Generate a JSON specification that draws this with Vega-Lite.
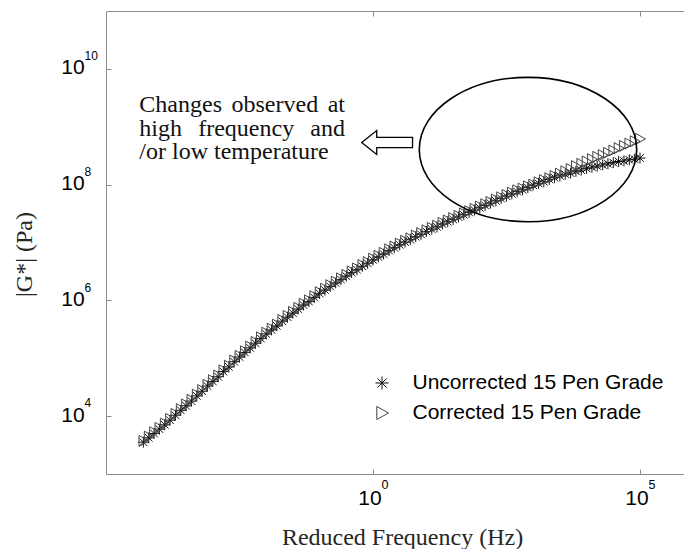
{
"$schema":"https://vega.github.io/schema/vega-lite/v6.json",
"width":578,"height":463,
"autosize":{"type":"none"},
"padding":{"left":106,"top":11,"right":0,"bottom":75},
"background":"#ffffff",
"config":{"view":{"stroke":null},"axis":{"grid":false,"domainColor":"#8c8c8c","tickColor":"#8c8c8c","domainWidth":1,"tickWidth":1,"labelFont":"Liberation Sans","labelColor":"#000000","titleFont":"Liberation Serif","titleFontWeight":"normal","titleColor":"#262626"}},
"datasets":{
"pts":[
{"s":"U","f":5.01e-5,"g":3.55e3},{"s":"U","f":6.31e-5,"g":4.22e3},{"s":"U","f":7.94e-5,"g":5.01e3},{"s":"U","f":1.00e-4,"g":5.96e3},{"s":"U","f":1.26e-4,"g":7.08e3},{"s":"U","f":1.58e-4,"g":8.51e3},{"s":"U","f":2.00e-4,"g":1.035e4},{"s":"U","f":2.51e-4,"g":1.26e4},{"s":"U","f":3.16e-4,"g":1.51e4},{"s":"U","f":3.98e-4,"g":1.82e4},{"s":"U","f":5.01e-4,"g":2.24e4},{"s":"U","f":6.31e-4,"g":2.69e4},{"s":"U","f":7.94e-4,"g":3.31e4},{"s":"U","f":1.00e-3,"g":3.98e4},{"s":"U","f":1.26e-3,"g":4.79e4},{"s":"U","f":1.58e-3,"g":5.89e4},{"s":"U","f":2.00e-3,"g":7.08e4},{"s":"U","f":2.51e-3,"g":8.71e4},{"s":"U","f":3.16e-3,"g":1.05e5},{"s":"U","f":3.98e-3,"g":1.26e5},{"s":"U","f":5.01e-3,"g":1.51e5},{"s":"U","f":6.31e-3,"g":1.82e5},{"s":"U","f":7.94e-3,"g":2.19e5},{"s":"U","f":1.00e-2,"g":2.63e5},{"s":"U","f":1.26e-2,"g":3.09e5},{"s":"U","f":1.58e-2,"g":3.63e5},{"s":"U","f":2.00e-2,"g":4.37e5},{"s":"U","f":2.51e-2,"g":5.13e5},{"s":"U","f":3.16e-2,"g":6.03e5},{"s":"U","f":3.98e-2,"g":7.08e5},{"s":"U","f":5.01e-2,"g":8.32e5},{"s":"U","f":6.31e-2,"g":9.55e5},{"s":"U","f":7.94e-2,"g":1.12e6},{"s":"U","f":0.1,"g":1.32e6},{"s":"U","f":0.126,"g":1.51e6},{"s":"U","f":0.158,"g":1.74e6},{"s":"U","f":0.2,"g":2.00e6},{"s":"U","f":0.251,"g":2.29e6},{"s":"U","f":0.316,"g":2.63e6},{"s":"U","f":0.398,"g":3.02e6},{"s":"U","f":0.501,"g":3.39e6},{"s":"U","f":0.631,"g":3.89e6},{"s":"U","f":0.794,"g":4.37e6},{"s":"U","f":1,"g":5.01e6},{"s":"U","f":1.26,"g":5.62e6},{"s":"U","f":1.58,"g":6.31e6},{"s":"U","f":2.0,"g":7.24e6},{"s":"U","f":2.51,"g":8.13e6},{"s":"U","f":3.16,"g":9.12e6},{"s":"U","f":3.98,"g":1.02e7},{"s":"U","f":5.01,"g":1.12e7},{"s":"U","f":6.31,"g":1.26e7},{"s":"U","f":7.94,"g":1.38e7},{"s":"U","f":10,"g":1.55e7},{"s":"U","f":12.6,"g":1.70e7},{"s":"U","f":15.8,"g":1.86e7},{"s":"U","f":20,"g":2.09e7},{"s":"U","f":25.1,"g":2.29e7},{"s":"U","f":31.6,"g":2.51e7},{"s":"U","f":39.8,"g":2.75e7},{"s":"U","f":50.1,"g":3.02e7},{"s":"U","f":63.1,"g":3.31e7},{"s":"U","f":79.4,"g":3.63e7},{"s":"U","f":100,"g":3.98e7},{"s":"U","f":126,"g":4.37e7},{"s":"U","f":158,"g":4.79e7},{"s":"U","f":200,"g":5.25e7},{"s":"U","f":251,"g":5.75e7},{"s":"U","f":316,"g":6.31e7},{"s":"U","f":398,"g":6.92e7},{"s":"U","f":501,"g":7.59e7},{"s":"U","f":631,"g":8.13e7},{"s":"U","f":794,"g":8.91e7},{"s":"U","f":1000,"g":9.77e7},{"s":"U","f":1260,"g":1.05e8},{"s":"U","f":1580,"g":1.12e8},{"s":"U","f":2000,"g":1.23e8},{"s":"U","f":2510,"g":1.32e8},{"s":"U","f":3160,"g":1.41e8},{"s":"U","f":3980,"g":1.51e8},{"s":"U","f":5010,"g":1.58e8},{"s":"U","f":6310,"g":1.70e8},{"s":"U","f":7940,"g":1.78e8},{"s":"U","f":10000,"g":1.91e8},{"s":"U","f":12600,"g":2.00e8},{"s":"U","f":15800,"g":2.09e8},{"s":"U","f":20000,"g":2.19e8},{"s":"U","f":25100,"g":2.29e8},{"s":"U","f":31600,"g":2.40e8},{"s":"U","f":39800,"g":2.51e8},{"s":"U","f":50100,"g":2.57e8},{"s":"U","f":63100,"g":2.69e8},{"s":"U","f":79400,"g":2.75e8},{"s":"U","f":100000,"g":2.88e8},
{"s":"C","f":5.01e-5,"g":3.72e3},{"s":"C","f":6.31e-5,"g":4.43e3},{"s":"C","f":7.94e-5,"g":5.26e3},{"s":"C","f":1.00e-4,"g":6.26e3},{"s":"C","f":1.26e-4,"g":7.43e3},{"s":"C","f":1.58e-4,"g":8.94e3},{"s":"C","f":2.00e-4,"g":1.09e4},{"s":"C","f":2.51e-4,"g":1.32e4},{"s":"C","f":3.16e-4,"g":1.59e4},{"s":"C","f":3.98e-4,"g":1.91e4},{"s":"C","f":5.01e-4,"g":2.35e4},{"s":"C","f":6.31e-4,"g":2.82e4},{"s":"C","f":7.94e-4,"g":3.48e4},{"s":"C","f":1.00e-3,"g":4.18e4},{"s":"C","f":1.26e-3,"g":5.03e4},{"s":"C","f":1.58e-3,"g":6.18e4},{"s":"C","f":2.00e-3,"g":7.43e4},{"s":"C","f":2.51e-3,"g":9.15e4},{"s":"C","f":3.16e-3,"g":1.10e5},{"s":"C","f":3.98e-3,"g":1.32e5},{"s":"C","f":5.01e-3,"g":1.59e5},{"s":"C","f":6.31e-3,"g":1.91e5},{"s":"C","f":7.94e-3,"g":2.30e5},{"s":"C","f":1.00e-2,"g":2.76e5},{"s":"C","f":1.26e-2,"g":3.24e5},{"s":"C","f":1.58e-2,"g":3.81e5},{"s":"C","f":2.00e-2,"g":4.59e5},{"s":"C","f":2.51e-2,"g":5.39e5},{"s":"C","f":3.16e-2,"g":6.33e5},{"s":"C","f":3.98e-2,"g":7.43e5},{"s":"C","f":5.01e-2,"g":8.74e5},{"s":"C","f":6.31e-2,"g":1.00e6},{"s":"C","f":7.94e-2,"g":1.18e6},{"s":"C","f":0.1,"g":1.39e6},{"s":"C","f":0.126,"g":1.59e6},{"s":"C","f":0.158,"g":1.83e6},{"s":"C","f":0.2,"g":2.10e6},{"s":"C","f":0.251,"g":2.40e6},{"s":"C","f":0.316,"g":2.76e6},{"s":"C","f":0.398,"g":3.17e6},{"s":"C","f":0.501,"g":3.56e6},{"s":"C","f":0.631,"g":4.08e6},{"s":"C","f":0.794,"g":4.59e6},{"s":"C","f":1,"g":5.26e6},{"s":"C","f":1.26,"g":5.90e6},{"s":"C","f":1.58,"g":6.63e6},{"s":"C","f":2.0,"g":7.60e6},{"s":"C","f":2.51,"g":8.54e6},{"s":"C","f":3.16,"g":9.58e6},{"s":"C","f":3.98,"g":1.07e7},{"s":"C","f":5.01,"g":1.18e7},{"s":"C","f":6.31,"g":1.32e7},{"s":"C","f":7.94,"g":1.45e7},{"s":"C","f":10,"g":1.63e7},{"s":"C","f":12.6,"g":1.79e7},{"s":"C","f":15.8,"g":1.95e7},{"s":"C","f":20,"g":2.19e7},{"s":"C","f":25.1,"g":2.40e7},{"s":"C","f":31.6,"g":2.64e7},{"s":"C","f":39.8,"g":2.89e7},{"s":"C","f":50.1,"g":3.17e7},{"s":"C","f":63.1,"g":3.48e7},{"s":"C","f":79.4,"g":3.81e7},{"s":"C","f":100,"g":4.18e7},{"s":"C","f":126,"g":4.59e7},{"s":"C","f":158,"g":5.03e7},{"s":"C","f":200,"g":5.51e7},{"s":"C","f":251,"g":6.04e7},{"s":"C","f":316,"g":6.63e7},{"s":"C","f":398,"g":7.27e7},{"s":"C","f":501,"g":7.97e7},{"s":"C","f":631,"g":8.54e7},{"s":"C","f":794,"g":9.36e7},{"s":"C","f":1000,"g":1.00e8},{"s":"C","f":1260,"g":1.10e8},{"s":"C","f":1580,"g":1.20e8},{"s":"C","f":2000,"g":1.29e8},{"s":"C","f":2510,"g":1.41e8},{"s":"C","f":3160,"g":1.55e8},{"s":"C","f":3980,"g":1.70e8},{"s":"C","f":5010,"g":1.86e8},{"s":"C","f":6310,"g":2.09e8},{"s":"C","f":7940,"g":2.29e8},{"s":"C","f":10000,"g":2.51e8},{"s":"C","f":12600,"g":2.75e8},{"s":"C","f":15800,"g":3.02e8},{"s":"C","f":20000,"g":3.24e8},{"s":"C","f":25100,"g":3.55e8},{"s":"C","f":31600,"g":3.89e8},{"s":"C","f":39800,"g":4.27e8},{"s":"C","f":50100,"g":4.68e8},{"s":"C","f":63100,"g":5.13e8},{"s":"C","f":79400,"g":5.62e8},{"s":"C","f":100000,"g":6.17e8}
],
"wordsL":[{"f":4.21e-5,"g":1.83e9,"t":"Changes"},{"f":2.24e-3,"g":1.83e9,"t":"observed"},{"f":4.21e-5,"g":7.06e8,"t":"high"},{"f":5.33e-4,"g":7.06e8,"t":"frequency"},{"f":4.21e-5,"g":2.72e8,"t":"/or low temperature"}],
"wordsR":[{"f":0.299,"g":1.83e9,"t":"at"},{"f":0.299,"g":7.06e8,"t":"and"}],
"ell":[{"f":799,"g":4.04e8}],
"arr":[{"f":1.84,"g":5.34e8}]
},
"layer":[
{"data":{"name":"pts"},
 "mark":{"type":"point","filled":false,"size":120,"strokeWidth":1,"opacity":1},
 "encoding":{
  "x":{"field":"f","type":"quantitative","scale":{"type":"log","domain":[1e-5,6.67e5],"nice":false},
       "axis":{"orient":"bottom","values":[1,100000],"labelExpr":"'10'","tickSize":-5,"labelPadding":35,"labelBaseline":"alphabetic","labelAlign":"center","labelOffset":-3.5,"labelFontSize":21,"labelFlush":false,"labelOverlap":false,
               "title":"Reduced Frequency (Hz)","titleFontSize":24,"titleX":296,"titleY":70,"titleBaseline":"alphabetic","titleAlign":"center"}},
  "y":{"field":"g","type":"quantitative","scale":{"type":"log","domain":[1e3,1e11],"nice":false},
       "axis":{"orient":"left","values":[1e4,1e6,1e8,1e10],"labelExpr":"'10'","tickSize":-5,"labelPadding":50.3,"labelAlign":"left","labelBaseline":"alphabetic","labelOffset":5,"labelFontSize":21,"labelFlush":false,"labelOverlap":false,
               "title":"|G*|  (Pa)","titleFontSize":24,"titleX":-82,"titleY":243,"titleAngle":-90,"titleBaseline":"middle","titleAlign":"center"}},
  "shape":{"field":"s","type":"nominal","scale":{"domain":["U","C"],"range":["M-1,0L1,0M0,-1L0,1M-0.7,-0.7L0.7,0.7M-0.7,0.7L0.7,-0.7","M-0.8,-1L1,0L-0.8,1Z"]},
           "legend":{"orient":"none","legendX":265.5,"legendY":361.5,"title":null,"labelFont":"Liberation Sans","labelFontSize":21,"labelColor":"#000000","labelLimit":500,"symbolSize":170,"labelOffset":20,"rowPadding":8,"symbolStrokeWidth":1,"padding":0,"labelExpr":"datum.label == 'U' ? 'Uncorrected 15 Pen Grade' : 'Corrected 15 Pen Grade'"}},
  "color":{"field":"s","type":"nominal","scale":{"domain":["U","C"],"range":["#111111","#444444"]},
           "legend":{"orient":"none","legendX":265.5,"legendY":361.5,"title":null,"labelFont":"Liberation Sans","labelFontSize":21,"labelColor":"#000000","labelLimit":500,"symbolSize":170,"labelOffset":20,"rowPadding":8,"symbolStrokeWidth":1,"padding":0,"labelExpr":"datum.label == 'U' ? 'Uncorrected 15 Pen Grade' : 'Corrected 15 Pen Grade'"}}
 }},
{"data":{"name":"ell"},
 "mark":{"type":"point","opacity":0},
 "encoding":{
  "x":{"field":"f","type":"quantitative","scale":{"type":"log","domain":[1e-5,6.67e5],"nice":false},
       "axis":{"orient":"bottom","values":[1,100000],"labelExpr":"datum.value == 1 ? '0' : '5'","domain":false,"ticks":false,"tickSize":0,"labelPadding":14.5,"labelBaseline":"alphabetic","labelAlign":"left","labelOffset":8,"labelFontSize":12.5,"labelFlush":false,"labelOverlap":false,"title":null}},
  "y":{"field":"g","type":"quantitative","scale":{"type":"log","domain":[1e3,1e11],"nice":false},
       "axis":{"orient":"left","values":[1e4,1e6,1e8,1e10],"labelExpr":"'' + round(log(datum.value)/LN10)","domain":false,"ticks":false,"tickSize":0,"labelPadding":22,"labelAlign":"left","labelBaseline":"alphabetic","labelOffset":-9.3,"labelFontSize":12,"labelFlush":false,"labelOverlap":false,"title":null}}
 }},
{"data":{"name":"ell"},
 "mark":{"type":"point","opacity":0},
 "encoding":{
  "x":{"field":"f","type":"quantitative","scale":{"type":"log","domain":[1e-5,6.67e5],"nice":false},
       "axis":{"orient":"top","values":[1,100000],"labels":false,"tickSize":-5,"title":null}}
 }},
{"data":{"name":"wordsL"},
 "mark":{"type":"text","align":"left","baseline":"alphabetic","font":"Liberation Serif","fontSize":24,"color":"#111111"},
 "encoding":{
  "x":{"field":"f","type":"quantitative","scale":{"type":"log","domain":[1e-5,6.67e5],"nice":false},"axis":null},
  "y":{"field":"g","type":"quantitative","scale":{"type":"log","domain":[1e3,1e11],"nice":false},"axis":null},
  "text":{"field":"t"}
 }},
{"data":{"name":"wordsR"},
 "mark":{"type":"text","align":"right","baseline":"alphabetic","font":"Liberation Serif","fontSize":24,"color":"#111111"},
 "encoding":{
  "x":{"field":"f","type":"quantitative","scale":{"type":"log","domain":[1e-5,6.67e5],"nice":false},"axis":null},
  "y":{"field":"g","type":"quantitative","scale":{"type":"log","domain":[1e3,1e11],"nice":false},"axis":null},
  "text":{"field":"t"}
 }},
{"data":{"name":"ell"},
 "mark":{"type":"point","shape":"M-1,0C-1,-0.3667,-0.5523,-0.664,0,-0.664C0.5523,-0.664,1,-0.3667,1,0C1,0.3667,0.5523,0.664,0,0.664C-0.5523,0.664,-1,0.3667,-1,0Z","size":47262,"filled":false,"stroke":"#000000","strokeWidth":1.6,"opacity":1},
 "encoding":{
  "x":{"field":"f","type":"quantitative","scale":{"type":"log","domain":[1e-5,6.67e5],"nice":false},"axis":null},
  "y":{"field":"g","type":"quantitative","scale":{"type":"log","domain":[1e3,1e11],"nice":false},"axis":null}
 }},
{"data":{"name":"arr"},
 "mark":{"type":"point","shape":"M-1,0L-0.41,-0.47L-0.41,-0.2L1,-0.2L1,0.2L-0.41,0.2L-0.41,0.47Z","size":2581,"filled":true,"fill":"#ffffff","stroke":"#000000","strokeWidth":1.3,"opacity":1},
 "encoding":{
  "x":{"field":"f","type":"quantitative","scale":{"type":"log","domain":[1e-5,6.67e5],"nice":false},"axis":null},
  "y":{"field":"g","type":"quantitative","scale":{"type":"log","domain":[1e3,1e11],"nice":false},"axis":null}
 }}
],
"resolve":{"axis":{"x":"independent","y":"independent"}}
}
